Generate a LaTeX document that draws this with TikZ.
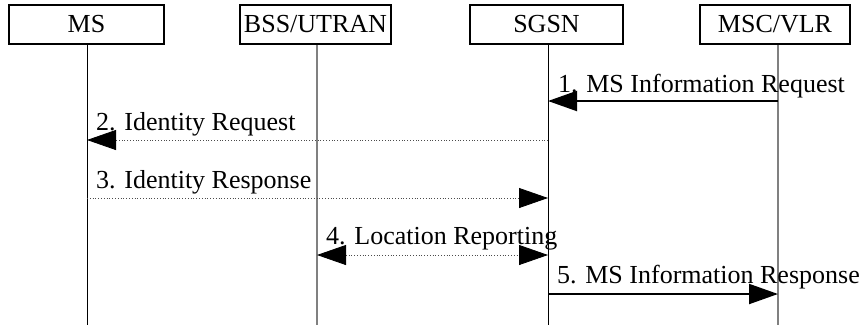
\documentclass[tikz,border=0pt]{standalone}
\usepackage{fontspec}
\setmainfont{Liberation Serif}
\usetikzlibrary{arrows.meta}
\begin{document}
\begin{tikzpicture}[x=1pt,y=-1pt,
  entity/.style={draw,line width=1.5pt,minimum height=39pt,inner sep=0pt,font=\fontsize{26}{30}\selectfont},
  lifeA/.style={line width=0.8pt,black},
  lifeB/.style={line width=1.3pt,black!50},
  msgsolid/.style={line width=2pt,-{Triangle[length=29pt,width=20pt]}},
  msgdot/.style={line width=0.8pt,dotted,black!70,-{Triangle[length=29pt,width=20pt,fill=black,color=black]}},
  msgboth/.style={line width=0.8pt,dotted,black!70,{Triangle[length=29pt,width=20pt,fill=black,color=black]}-{Triangle[length=29pt,width=20pt,fill=black,color=black]}},
  lbl/.style={anchor=base west,inner sep=0pt,font=\fontsize{26}{30}\selectfont}]
\useasboundingbox (0,0) rectangle (866,325);
% entity boxes
\node[entity,minimum width=155pt] (ms)   at (86.5,24.5) {MS};
\node[entity,minimum width=151pt] (bss)  at (315.5,24.5) {BSS/UTRAN};
\node[entity,minimum width=153pt] (sgsn) at (546.5,24.5) {SGSN};
\node[entity,minimum width=150pt] (msc)  at (775,24.5) {MSC/VLR};
% lifeline bottoms
\coordinate (msE)   at (87,325);
\coordinate (bssE)  at (317,325);
\coordinate (sgsnE) at (548,325);
\coordinate (mscE)  at (778,325);
\draw[lifeA] (ms.south -| msE) -- (msE);
\draw[lifeB] (bss.south -| bssE) -- (bssE);
\draw[lifeA] (sgsn.south -| sgsnE) -- (sgsnE);
\draw[lifeB] (msc.south -| mscE) -- (mscE);
% message anchor points
\coordinate (m1a) at (778,101); \coordinate (m1b) at (548,101);
\coordinate (m2a) at (548,140); \coordinate (m2b) at (87,140);
\coordinate (m3a) at (87,198);  \coordinate (m3b) at (548,198);
\coordinate (m4a) at (317,255); \coordinate (m4b) at (548,255);
\coordinate (m5a) at (548,294); \coordinate (m5b) at (778,294);
% messages
\draw[msgsolid] (m1a) -- (m1b);
\draw[msgdot]   (m2a) -- (m2b);
\draw[msgdot]   (m3a) -- (m3b);
\draw[msgboth]  (m4a) -- (m4b);
\draw[msgsolid] (m5a) -- (m5b);
% labels
\node[lbl] (l1) at (558,92)  {1. MS Information Request};
\node[lbl] (l2) at (96,130)  {2. Identity Request};
\node[lbl] (l3) at (96,188)  {3. Identity Response};
\node[lbl] (l4) at (326,244) {4. Location Reporting};
\node[lbl] (l5) at (557,283) {5. MS Information Response};
\end{tikzpicture}
\end{document}
